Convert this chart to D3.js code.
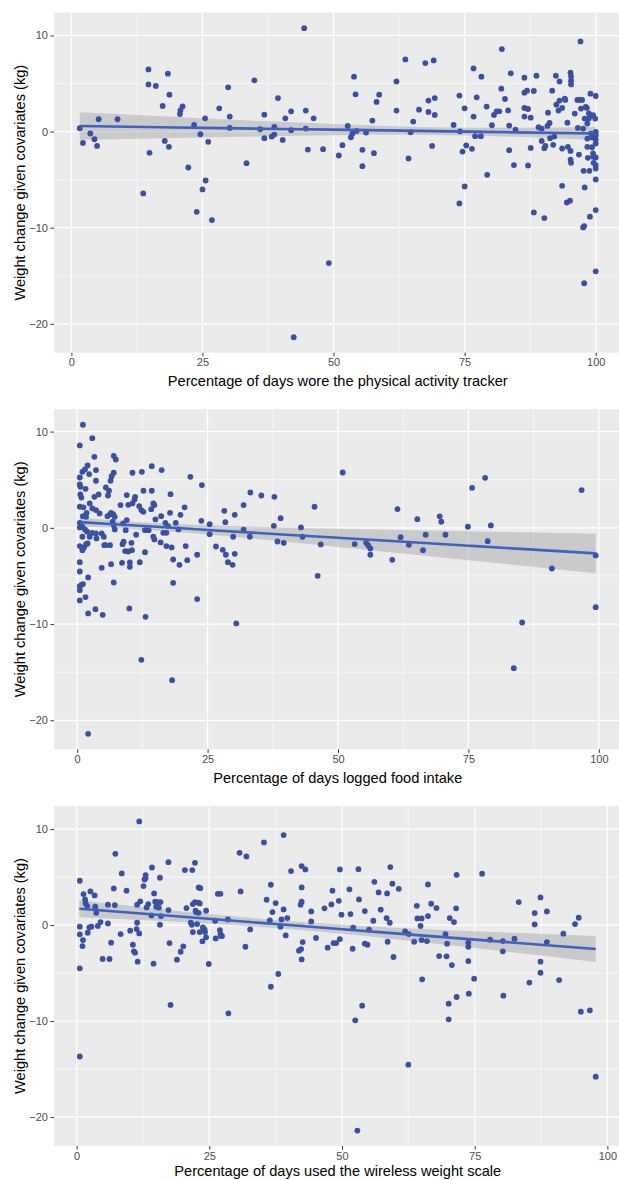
<!DOCTYPE html>
<html>
<head>
<meta charset="utf-8">
<script src="https://cdn.jsdelivr.net/npm/d3@7"></script>
<style>
body { margin: 0; background: #fff; }
svg { display: block; font-family: "Liberation Sans", Arial, sans-serif; }
</style>
</head>
<body>
<div id="chart"></div>
<script>
// ---- data ----
var trackerPct = [1.6,2.2,3.6,4.4,4.9,5.2,8.8,14.7,14.7,16.1,18.4,18.7,17.4,21.2,20.8,20.7,14.9,17.8,18.6,23.4,24.6,25.5,26.1,22.3,25.6,25.0,13.7,28.2,29.9,30.2,30.2,33.4,34.9,36.8,36.0,36.8,38.2,38.7,38.7,39.4,40.3,40.8,41.9,41.9,44.4,44.7,44.7,45.1,46.2,
    48.0,51.0,51.7,52.7,53.9,54.2,53.3,53.6,54.4,55.5,55.5,56.2,57.4,57.7,58.2,58.7,62.0,62.0,63.7,64.3,64.7,65.2,66.3,67.5,68.1,68.1,68.8,69.1,69.3,69.3,72.9,74.0,74.1,74.6,75.0,75.0,75.3,76.4,76.7,76.7,77.0,77.3,78.1,78.2,79.2,79.3,80.2,80.6,81.1,81.6,82.0,82.1,82.7,83.3,83.5,83.5,83.8,84.4,84.7,
    86.4,86.4,86.9,86.4,87.1,86.4,87.6,87.1,87.6,88.2,88.7,89.1,89.7,89.7,90.2,90.4,90.9,90.8,91.2,91.3,91.7,91.9,92.1,92.4,92.5,93.1,92.9,93.1,93.6,93.6,93.6,94.1,94.2,94.6,94.7,95.2,95.3,95.3,95.3,95.2,95.2,95.3,96.0,96.5,96.9,97.2,97.4,96.6,96.8,97.1,97.6,97.7,97.9,97.9,98.1,98.3,98.4,98.4,98.4,98.5,98.7,98.7,98.8,99.0,99.1,99.1,99.3,99.3,99.5,99.5,99.5,99.6,99.9,
    100,100,100,100,100,100,100,100,100,23.9,26.8,49.1,42.4,74.0,88.2,90.2,94.5,95.1,100,98.9,97.8,97.6,100,97.8];
var trackerWt = [0.35,-1.18,-0.2,-0.8,-1.49,1.28,1.28,6.47,4.91,4.74,6.02,3.84,2.66,2.63,2.21,1.83,-2.21,-0.97,-1.59,0.69,-0.28,1.38,-1.07,-3.74,-5.09,-6.02,-6.44,2.42,4.6,1.56,0.38,-3.29,5.33,1.76,0.24,-0.69,-0.52,-0.31,0.48,3.49,-0.87,1.38,2.11,0.14,10.76,2.18,0.31,-1.87,1.38,
    -1.83,-2.49,-1.42,0.59,5.71,3.88,-0.59,-0.21,0.07,-1.9,-3.6,-0.1,1.14,-2.25,3.08,3.84,5.22,2.18,7.51,-2.8,-0.07,1.04,2.28,7.13,3.22,2.04,-1.49,7.4,3.49,1.73,0.69,3.74,0.03,-2.08,-5.71,2.42,-1.45,-1.8,1.56,6.57,-0.48,3.56,-0.48,5.71,2.6,-4.5,0.66,1.73,2.11,2.11,4.46,8.58,3.39,2.2,0.62,-1.94,6.06,-3.49,0.21,
    5.6,4.05,4.26,2.46,2.35,1.56,1.45,-3.53,-1.7,4.22,5.81,0.45,0.31,-0.97,-1.73,-1.49,1.97,0.59,0.9,-0.69,4.26,-1.38,-0.52,5.81,2.8,5.22,2.18,3.22,2.46,-1.76,-5.64,3.43,3.29,0.93,-1.59,6.12,5.74,5.29,4.91,-2.01,-2.91,-3.25,1.87,3.29,3.29,2.39,3.29,0.38,-2.39,9.38,0.31,-4.08,-5.81,1.35,2.56,2.46,0.83,-0.73,-1.59,-2.73,1.9,1.35,-4.08,3.94,1.66,-0.21,-0.62,-1.63,-2.28,-2.63,1.7,-3.25,1.35,
    3.7,-0.03,-0.38,-0.83,-1.25,-2.7,-3.49,-3.84,-4.98,-8.35,-9.21,-13.68,-21.4,-7.48,-8.41,-9.0,-7.38,-7.2,-8.17,-8.86,-9.83,-9.97,-14.54,-15.78];

var foodPct = [1.1,0.5,2.9,0.5,0.5,0.6,0.6,0.8,0.5,1.2,1.0,1.5,2.0,2.3,1.6,3.3,3.6,3.6,3.3,4.1,2.4,2.9,3.6,4.3,1.8,1.1,1.7,0.5,1.0,0.5,1.5,1.0,1.9,2.9,2.4,3.6,3.7,4.7,5.1,5.5,6.1,5.9,6.4,7.0,7.4,7.0,6.6,6.5,5.8,6.3,6.9,7.2,6.8,7.0,7.2,5.2,5.4,6.3,0.5,1.3,1.7,2.0,1.0,0.5,0.5,2.1,4.7,6.5,7.0,
    8.3,9.5,8.8,9.5,9.3,8.9,8.7,9.2,9.8,10.5,10.4,10.1,8.6,10.1,9.8,10.6,10.6,11.0,11.1,11.3,11.9,12.3,12.7,12.4,12.7,12.0,13.0,13.0,13.7,14.3,14.3,14.6,14.8,14.2,14.6,14.8,15.0,16.0,16.2,16.1,16.5,16.9,17.1,17.1,17.4,17.9,17.8,18.1,18.4,18.9,19.4,19.6,18.4,19.8,20.6,20.8,21.1,21.7,23.0,23.8,23.9,
    25.4,25.4,26.6,27.9,28.2,28.4,28.5,28.9,29.8,29.9,30.2,30.2,31.9,31.9,33.1,33.2,35.3,37.8,37.7,38.4,39.0,39.6,42.9,43.2,45.5,46.1,46.7,50.9,53.2,55.4,55.8,56.2,56.2,60.4,61.4,62.0,63.6,65.2,66.3,66.8,69.5,69.8,70.6,74.9,75.7,78.2,78.7,79.3,85.3,83.7,91.0,96.7,99.4,99.4,
    0.5,0.8,1.1,0.5,0.5,1.6,2.1,3.5,4.9,10.0,13.1,12.3,18.2,23.0,30.5,2.1];
var foodWt = [10.71,8.56,9.32,5.23,4.5,4.26,3.47,3.15,2.19,2.12,5.82,6.07,6.48,5.58,4.05,7.38,6.0,4.89,3.22,3.47,2.53,2.01,1.84,1.5,1.56,1.21,1.14,0.52,0.11,0.04,-0.17,-0.93,-0.41,-0.52,-0.93,-0.59,-1.1,-0.59,-0.93,4.19,3.85,3.36,4.89,7.48,7.1,5.72,5.37,1.56,1.21,1.39,1.42,1.14,0.63,0.28,-0.17,-1.8,-1.8,-1.8,-1.9,-2.04,-1.7,-1.63,-2.32,-3.57,-4.54,-5.16,-4.16,-3.78,-5.68,
    2.36,3.4,0.45,0.8,-0.24,-1.45,-1.7,-2.42,-2.46,-2.32,-1.56,-3.6,-3.64,-4.05,2.39,2.53,5.72,2.94,3.22,-0.72,2.25,1.84,1.66,5.82,3.85,-3.57,-2.53,-0.24,-0.24,6.41,3.85,2.53,2.36,1.94,-0.93,-1.21,0.87,-1.52,6.0,1.21,-0.52,0.52,-0.52,-1.9,0.18,3.5,1.56,-2.04,-3.29,0.52,-0.17,-3.85,-5.72,1.35,2.12,-1.9,-3.36,5.3,-2.8,0.73,4.44,
    0.38,-0.66,-1.94,-2.29,1.77,0.59,-2.8,-3.57,-3.85,-0.93,1.35,-2.7,2.36,-0.2,-0.93,3.67,3.36,3.22,0.21,-1.42,1.0,-1.56,0.04,-0.93,2.19,-4.99,-1.73,5.75,-1.69,-1.56,-1.83,-2.15,-2.8,-3.33,1.95,-0.97,-1.77,0.9,-2.32,-0.72,1.19,0.63,-0.72,0.11,4.16,5.2,-1.39,0.25,-9.84,-14.59,-4.23,3.92,-2.87,-8.25,
    -6.06,-5.92,-5.85,-6.48,-7.55,-7.2,-8.9,-8.45,-9.04,-8.38,-9.25,-13.72,-15.83,-7.41,-9.94,-21.41];

var scalePct = [0.6,0.6,0.6,0.6,1.3,1.6,1.7,2.0,1.2,1.1,2.1,2.4,2.8,2.6,3.4,3.5,3.7,4.0,4.5,4.9,5.9,5.9,6.2,6.5,7.0,7.2,7.3,8.3,8.5,9.4,10.1,10.6,10.8,11.0,11.3,11.4,11.5,11.4,11.8,11.8,12.0,12.6,12.8,13.0,13.0,13.2,13.5,14.2,14.1,14.6,14.8,15.0,15.3,15.5,15.8,15.7,15.9,15.7,14.5,
    17.3,17.3,17.5,18.9,19.6,20.1,20.4,20.7,21.5,21.7,21.8,21.9,21.9,22.3,22.3,22.4,22.5,22.7,22.9,23.0,23.0,23.3,23.2,23.2,23.7,23.8,24.1,24.2,24.4,24.4,24.9,26.1,26.2,26.6,27.1,27.0,27.1,27.2,27.4,28.5,30.7,30.9,31.8,32.0,32.7,35.3,35.8,36.4,36.6,36.9,37.5,38.0,38.4,38.6,39.0,39.0,39.4,39.7,40.4,
    41.9,42.3,42.4,42.4,43.1,42.4,42.4,42.2,42.6,44.2,44.2,45.1,46.7,47.3,48.0,48.2,48.4,48.9,49.4,49.6,49.6,49.9,51.4,51.6,52.0,52.1,53.1,53.2,54.3,54.3,54.8,55.1,55.9,56.1,56.9,57.3,58.5,58.4,59.0,58.6,59.1,59.5,59.7,60.7,61.9,62.6,63.6,64.1,64.2,64.8,65.0,65.0,65.1,66.0,66.2,66.2,66.8,67.8,68.3,
    69.5,69.7,69.8,70.3,70.7,71.1,71.5,71.6,73.8,73.8,73.8,74.9,76.4,77.9,80.3,80.3,82.5,83.3,86.3,86.3,87.4,87.4,87.4,88.6,88.6,91.7,90.9,93.9,94.6,
    0.6,17.7,28.6,36.6,52.5,53.8,52.9,62.5,70.1,70.1,71.6,73.9,80.4,85.3,95.0,96.7,97.8];
var scaleWt = [4.62,-0.17,-0.97,-4.51,3.23,2.67,2.26,1.98,-1.56,-2.19,-0.8,-0.24,-0.17,3.51,3.09,1.91,1.28,-0.1,0.31,-3.54,2.12,0.17,-3.54,-1.84,3.82,2.08,7.43,-0.94,5.38,3.58,-0.59,-2.05,-2.74,-2.88,-0.42,0.24,-3.82,2.12,10.8,-0.87,2.47,4.06,4.76,5.21,4.9,1.84,2.19,6.0,1.0,3.3,2.43,1.91,2.4,1.81,2.4,0.03,0.94,4.93,-4.03,
    6.56,1.56,-1.88,-3.61,-2.78,-2.22,5.73,1.77,0.24,0.03,5.73,-0.73,2.19,6.49,2.4,1.49,1.35,0.1,2.33,1.28,3.92,3.85,2.26,-0.73,-1.7,-0.24,-0.45,-0.73,1.49,-1.28,-4.06,0.45,-1.39,3.26,3.26,-0.52,-0.94,-1.15,-1.15,0.59,7.53,3.51,-2.26,7.15,-0.45,8.61,2.64,0.49,4.2,1.35,2.29,-5.1,-0.17,0.59,9.38,1.63,-1.08,0.73,5.63,
    -2.67,-2.5,-3.58,6.15,5.8,3.92,2.43,2.12,-1.77,1.42,0.38,-1.35,1.74,-2.36,2.15,3.58,-1.88,-1.88,2.53,5.8,-1.46,1.08,3.72,1.15,-2.47,-0.28,5.83,2.67,1.46,-1.94,-2.05,-0.49,0.45,4.51,3.4,1.6,3.3,0.73,0.24,-1.74,6.04,4.31,-3.33,3.78,-0.66,-0.94,-1.74,2.01,0.69,-0.1,0.69,-1.56,-5.66,-1.67,4.24,0.94,2.22,1.77,-3.23,
    -0.94,-3.26,-1.94,0.73,-4.17,0.31,1.74,5.24,-1.84,-2.26,-3.75,-5.59,5.35,-1.53,-1.67,-2.74,-1.42,2.4,1.25,0.07,2.88,-3.82,-4.97,1.42,-1.77,-0.9,-5.73,0.1,0.76,
    -13.7,-8.33,-9.2,-6.43,-9.93,-8.4,-21.42,-14.55,-8.2,-9.83,-7.5,-7.15,-7.36,-6.0,-9.03,-8.89,-15.8];

// fitted line and 95% band
var trackerFitX = [1.6, 20, 40, 60, 72, 85, 100];
var trackerFit  = [0.58, 0.43, 0.27, 0.12, 0.02, -0.08, -0.2];
var trackerLo   = [-0.85, -0.66, -0.47, -0.34, -0.38, -0.55, -0.88];
var trackerHi   = [2.01, 1.52, 1.01, 0.58, 0.42, 0.39, 0.48];

var foodFitX = [0.5, 12, 25, 50, 75, 99.4];
var foodFit  = [0.59, 0.21, -0.22, -1.04, -1.86, -2.66];
var foodLo   = [0.13, -0.17, -0.70, -1.99, -3.36, -4.71];
var foodHi   = [1.05, 0.59, 0.26, -0.09, -0.36, -0.61];

var scaleFitX = [0.5, 20, 40, 60, 80, 97.8];
var scaleFit  = [1.70, 0.86, 0.0, -0.87, -1.73, -2.5];
var scaleLo   = [0.82, 0.31, -0.42, -1.47, -2.71, -3.85];
var scaleHi   = [2.58, 1.41, 0.42, -0.27, -0.75, -1.15];

var xTicks = [0, 25, 50, 75, 100];
var xMinor = [12.5, 37.5, 62.5, 87.5];
var yTicks = [-20, -10, 0, 10];
var yMinor = [-15, -5, 5];

var yTitle = 'Weight change given covariates (kg)';

var panels = [
    { x: trackerPct, y: trackerWt, fx: trackerFitX, fy: trackerFit, lo: trackerLo, hi: trackerHi,
      top: 12.7, titleGap: 33.5, label: 'Percentage of days wore the physical activity tracker' },
    { x: foodPct, y: foodWt, fx: foodFitX, fy: foodFit, lo: foodLo, hi: foodHi,
      top: 409.3, titleGap: 33.5, label: 'Percentage of days logged food intake' },
    { x: scalePct, y: scaleWt, fx: scaleFitX, fy: scaleFit, lo: scaleLo, hi: scaleHi,
      top: 806, titleGap: 30, label: 'Percentage of days used the wireless weight scale' }
];

var W = 619, H = 1180;
var left = 54, right = 621.5, panelH = 340;

var svg = d3.select('#chart')
    .append('svg')
    .attr('width', W)
    .attr('height', H);

function expand(ext) {
    var pad = (ext[1] - ext[0]) * 0.05;
    return [ext[0] - pad, ext[1] + pad];
}

function drawPanel(p) {
    var g = svg.append('g');
    var bottom = p.top + panelH;

    var x = d3.scaleLinear().domain(expand(d3.extent(p.x))).range([left, right]);
    var y = d3.scaleLinear().domain(expand(d3.extent(p.y))).range([bottom, p.top]);

    g.append('rect')
        .attr('x', left).attr('y', p.top)
        .attr('width', right - left).attr('height', panelH)
        .attr('fill', '#EBEBEB');

    // grid
    g.selectAll('.vminor').data(xMinor).enter().append('line')
        .attr('x1', d => x(d)).attr('x2', d => x(d))
        .attr('y1', p.top).attr('y2', bottom)
        .attr('stroke', '#fff').attr('stroke-width', 0.6);
    g.selectAll('.hminor').data(yMinor).enter().append('line')
        .attr('y1', d => y(d)).attr('y2', d => y(d))
        .attr('x1', left).attr('x2', right)
        .attr('stroke', '#fff').attr('stroke-width', 0.6);
    g.selectAll('.vmajor').data(xTicks).enter().append('line')
        .attr('x1', d => x(d)).attr('x2', d => x(d))
        .attr('y1', p.top).attr('y2', bottom)
        .attr('stroke', '#fff').attr('stroke-width', 1.2);
    g.selectAll('.hmajor').data(yTicks).enter().append('line')
        .attr('y1', d => y(d)).attr('y2', d => y(d))
        .attr('x1', left).attr('x2', right)
        .attr('stroke', '#fff').attr('stroke-width', 1.2);

    var idx = d3.range(p.fx.length);

    // confidence band
    var band = d3.area()
        .x(i => x(p.fx[i]))
        .y0(i => y(p.lo[i]))
        .y1(i => y(p.hi[i]))
        .curve(d3.curveMonotoneX);
    g.append('path')
        .datum(idx)
        .attr('d', band)
        .attr('fill', '#999999')
        .attr('fill-opacity', 0.4);

    // points
    g.selectAll('.pt').data(d3.range(p.x.length)).enter().append('circle')
        .attr('cx', i => x(p.x[i]))
        .attr('cy', i => y(p.y[i]))
        .attr('r', 2.9)
        .attr('fill', '#3A50A2');

    // fitted line
    var line = d3.line()
        .x(i => x(p.fx[i]))
        .y(i => y(p.fy[i]))
        .curve(d3.curveMonotoneX);
    g.append('path')
        .datum(idx)
        .attr('d', line)
        .attr('fill', 'none')
        .attr('stroke', '#3F62C0')
        .attr('stroke-width', 2.6);

    // axes
    var ax = g.append('g')
        .attr('transform', 'translate(0,' + bottom + ')')
        .call(d3.axisBottom(x).tickValues(xTicks).tickSize(3.5).tickPadding(2.5));
    var ay = g.append('g')
        .attr('transform', 'translate(' + left + ',0)')
        .call(d3.axisLeft(y).tickValues(yTicks).tickSize(3.5).tickPadding(2.5));
    [ax, ay].forEach(a => {
        a.select('.domain').remove();
        a.selectAll('line').attr('stroke', '#333333');
        a.selectAll('text')
            .attr('fill', '#4D4D4D')
            .style('font-size', '11px')
            .style('font-family', '"Liberation Sans", Arial, sans-serif');
    });

    // titles
    g.append('text')
        .attr('x', (left + right) / 2)
        .attr('y', bottom + p.titleGap)
        .attr('text-anchor', 'middle')
        .attr('font-size', 14.6)
        .attr('fill', '#000')
        .text(p.label);

    g.append('text')
        .attr('transform', 'translate(25,' + (p.top + panelH / 2) + ') rotate(-90)')
        .attr('text-anchor', 'middle')
        .attr('font-size', 14.6)
        .attr('fill', '#000')
        .text(yTitle);
}

panels.forEach(drawPanel);
</script>
</body>
</html>
